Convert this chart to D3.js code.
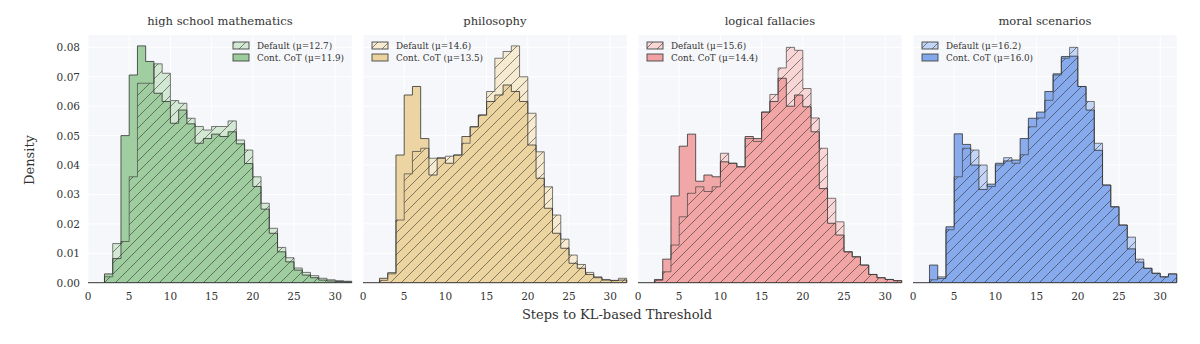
<!DOCTYPE html>
<html>
<head>
<meta charset="utf-8">
<title>Steps to KL-based Threshold</title>
<script src="https://cdn.jsdelivr.net/npm/d3@7"></script>
<style>
    body { margin: 0; background: #fff; }
    text { font-family: "DejaVu Serif", serif; fill: #333; }
</style>
</head>
<body>
<svg id="chart" width="1200" height="344"></svg>
<script>
    // subjects (panel titles)
    var subjects = ["high school mathematics", "philosophy", "logical fallacies", "moral scenarios"];

    // histogram bins: width 1, edges 2..32
    var binEdges = d3.range(2, 33);

    // density per bin
    var mathDefault = [0.002, 0.0133, 0.014, 0.036, 0.0678, 0.0678, 0.0744, 0.0712, 0.0619, 0.061,
        0.0559, 0.0531, 0.0519, 0.0531, 0.0531, 0.055, 0.0485, 0.0451, 0.036, 0.027,
        0.0185, 0.012, 0.0085, 0.005, 0.0035, 0.0024, 0.0015, 0.001, 0.0007, 0.0005];
    var mathCont = [0.003, 0.0082, 0.050, 0.0706, 0.0805, 0.0752, 0.0644, 0.0616, 0.0542, 0.0587,
        0.054, 0.0474, 0.049, 0.0505, 0.0497, 0.0513, 0.0472, 0.0405, 0.0327, 0.025,
        0.0168, 0.0105, 0.0071, 0.0043, 0.0026, 0.0017, 0.0009, 0.0006, 0.0004, 0.0003];

    var philDefault = [0.0008, 0.003, 0.0213, 0.037, 0.0446, 0.0457, 0.0423, 0.0425, 0.043, 0.0434,
        0.0474, 0.053, 0.057, 0.065, 0.0763, 0.0786, 0.0805, 0.070, 0.0576, 0.0445,
        0.0326, 0.023, 0.0148, 0.0094, 0.0062, 0.0035, 0.002, 0.0011, 0.0008, 0.0015];
    var philCont = [0.0015, 0.0034, 0.0434, 0.0638, 0.0667, 0.049, 0.0366, 0.0423, 0.0406, 0.0434,
        0.0497, 0.053, 0.057, 0.0616, 0.0638, 0.0672, 0.065, 0.0616, 0.0468, 0.0355,
        0.0253, 0.0168, 0.0117, 0.0066, 0.0049, 0.0028, 0.0017, 0.0009, 0.0007, 0.0009];

    var logicDefault = [0.0008, 0.0037, 0.0128, 0.0224, 0.0304, 0.0326, 0.031, 0.0326, 0.044, 0.0406,
        0.0394, 0.049, 0.048, 0.058, 0.064, 0.073, 0.080, 0.079, 0.066, 0.056,
        0.0457, 0.0287, 0.0207, 0.0105, 0.0088, 0.006, 0.0028, 0.0017, 0.0011, 0.0007];
    var logicCont = [0.0011, 0.008, 0.0295, 0.0464, 0.0505, 0.0345, 0.0366, 0.036, 0.0411, 0.0406,
        0.0394, 0.0497, 0.049, 0.058, 0.0616, 0.0695, 0.060, 0.0638, 0.0598, 0.0513,
        0.032, 0.0202, 0.0162, 0.0105, 0.0088, 0.006, 0.0028, 0.0017, 0.0011, 0.0007];

    var moralDefault = [0.001, 0.002, 0.018, 0.036, 0.0457, 0.0451, 0.040, 0.0327, 0.040, 0.0425,
        0.0406, 0.0435, 0.053, 0.056, 0.062, 0.0706, 0.0763, 0.080, 0.0667, 0.0616,
        0.0474, 0.0332, 0.0258, 0.0196, 0.0155, 0.008, 0.0049, 0.0032, 0.002, 0.003];
    var moralCont = [0.006, 0.0015, 0.019, 0.0506, 0.047, 0.040, 0.0317, 0.0335, 0.0406, 0.0414,
        0.0417, 0.049, 0.0559, 0.058, 0.065, 0.071, 0.0769, 0.077, 0.0667, 0.0587,
        0.045, 0.0332, 0.0258, 0.0196, 0.0115, 0.007, 0.0049, 0.0032, 0.002, 0.003];

    var defaultMeans = ["12.7", "14.6", "15.6", "16.2"];
    var contMeans = ["11.9", "13.5", "14.4", "16.0"];

    var xTicks = [0, 5, 10, 15, 20, 25, 30];
    var yTicks = [0, 0.01, 0.02, 0.03, 0.04, 0.05, 0.06, 0.07, 0.08];

    var defaultSeries = [mathDefault, philDefault, logicDefault, moralDefault];
    var contSeries = [mathCont, philCont, logicCont, moralCont];

    // colours: solid and pale
    var contColors = ["#9ccb9c", "#ebd39d", "#f0a2a2", "#84a8ec"];
    var paleColors = ["#d2e8d2", "#f6ebd0", "#f8d6d6", "#c2d5f6"];

    var panelLeft = [88, 363, 638, 913],
        panelW = 263.7,
        plotTop = 35,
        plotBottom = 282.7,
        plotH = plotBottom - plotTop;

    var svg = d3.select("#chart");

    var x = d3.scaleLinear().domain([0, 32]).range([0, panelW]);
    var y = d3.scaleLinear().domain([0, 0.0842]).range([plotH, 0]);

    // hatch pattern for the Default series
    var hs = 11;
    var defs = svg.append("defs");
    var pat = defs.append("pattern")
        .attr("id", "hatch")
        .attr("patternUnits", "userSpaceOnUse")
        .attr("width", hs)
        .attr("height", hs);
    pat.append("path")
        .attr("d", "M-2,2 L2,-2 M0," + hs + " L" + hs + ",0 M" + (hs - 2) + "," + (hs + 2) + " L" + (hs + 2) + "," + (hs - 2))
        .style("stroke", "#2b2b2b")
        .style("stroke-opacity", 0.7)
        .style("stroke-width", 0.8);

    function stepPoints(vals) {
        var pts = [[binEdges[0], 0]];
        vals.forEach(function (v, i) {
            pts.push([binEdges[i], v]);
            pts.push([binEdges[i + 1], v]);
        });
        pts.push([binEdges[binEdges.length - 1], 0]);
        return pts;
    }

    var line = d3.line()
        .x(function (d) { return x(d[0]); })
        .y(function (d) { return y(d[1]); });

    subjects.forEach(function (name, p) {
        var g = svg.append("g")
            .attr("transform", "translate(" + panelLeft[p] + "," + plotTop + ")");

        // background + grid
        g.append("rect")
            .attr("width", panelW)
            .attr("height", plotH)
            .style("fill", "#f6f7fa");

        g.selectAll(".gx").data(xTicks).enter().append("line")
            .attr("x1", function (d) { return x(d); })
            .attr("x2", function (d) { return x(d); })
            .attr("y1", 0).attr("y2", plotH)
            .style("stroke", "#ffffff").style("stroke-width", 1);
        g.selectAll(".gy").data(yTicks).enter().append("line")
            .attr("x1", 0).attr("x2", panelW)
            .attr("y1", function (d) { return y(d); })
            .attr("y2", function (d) { return y(d); })
            .style("stroke", "#ffffff").style("stroke-width", 1);

        var dPts = stepPoints(defaultSeries[p]),
            cPts = stepPoints(contSeries[p]);

        // default pale fill
        g.append("path")
            .attr("d", line(dPts) + "Z")
            .style("fill", paleColors[p]);
        // cont. CoT fill
        g.append("path")
            .attr("d", line(cPts) + "Z")
            .style("fill", contColors[p])
            .style("fill-opacity", 0.95);
        // default hatch on top
        g.append("path")
            .attr("d", line(dPts) + "Z")
            .style("fill", "url(#hatch)");
        // outlines
        g.append("path")
            .attr("d", line(dPts))
            .style("fill", "none")
            .style("stroke", "#444")
            .style("stroke-opacity", 0.7)
            .style("stroke-width", 1);
        g.append("path")
            .attr("d", line(cPts))
            .style("fill", "none")
            .style("stroke", "#333")
            .style("stroke-opacity", 0.8)
            .style("stroke-width", 1);

        // bottom spine
        g.append("line")
            .attr("x1", 0).attr("x2", panelW)
            .attr("y1", plotH).attr("y2", plotH)
            .style("stroke", "#333").style("stroke-width", 1);

        // x tick labels
        g.selectAll(".xt").data(xTicks).enter().append("text")
            .attr("x", function (d) { return x(d); })
            .attr("y", plotH + 17)
            .attr("text-anchor", "middle")
            .style("font-size", "10.5px")
            .text(function (d) { return d; });

        // title
        g.append("text")
            .attr("x", panelW / 2)
            .attr("y", -10)
            .attr("text-anchor", "middle")
            .style("font-size", "11.5px")
            .text(name);

        // legend
        var lx = p === 0 ? 145 : 9;
        var items = [
            { label: "Default (\u03bc=" + defaultMeans[p] + ")", hatch: true },
            { label: "Cont. CoT (\u03bc=" + contMeans[p] + ")", hatch: false }
        ];
        items.forEach(function (it, i) {
            var ly = 7 + i * 12;
            g.append("rect").attr("x", lx).attr("y", ly).attr("width", 16).attr("height", 7)
                .style("fill", it.hatch ? paleColors[p] : contColors[p]);
            if (it.hatch) {
                g.append("rect").attr("x", lx).attr("y", ly).attr("width", 16).attr("height", 7)
                    .style("fill", "url(#hatch)");
            }
            g.append("rect").attr("x", lx).attr("y", ly).attr("width", 16).attr("height", 7)
                .style("fill", "none").style("stroke", "#444").style("stroke-width", 0.9);
            g.append("text")
                .attr("x", lx + 24)
                .attr("y", ly + 7)
                .style("font-size", "8.8px")
                .text(it.label);
        });

        // y tick labels on first panel only
        if (p === 0) {
            g.selectAll(".yt").data(yTicks).enter().append("text")
                .attr("x", -8)
                .attr("y", function (d) { return y(d) + 4; })
                .attr("text-anchor", "end")
                .style("font-size", "10.5px")
                .text(function (d) { return d.toFixed(2); });
        }
    });

    svg.append("text")
        .attr("transform", "translate(34,160) rotate(-90)")
        .attr("text-anchor", "middle")
        .style("font-size", "13px")
        .text("Density");

    svg.append("text")
        .attr("x", 617)
        .attr("y", 319)
        .attr("text-anchor", "middle")
        .style("font-size", "13px")
        .text("Steps to KL-based Threshold");
</script>
</body>
</html>
